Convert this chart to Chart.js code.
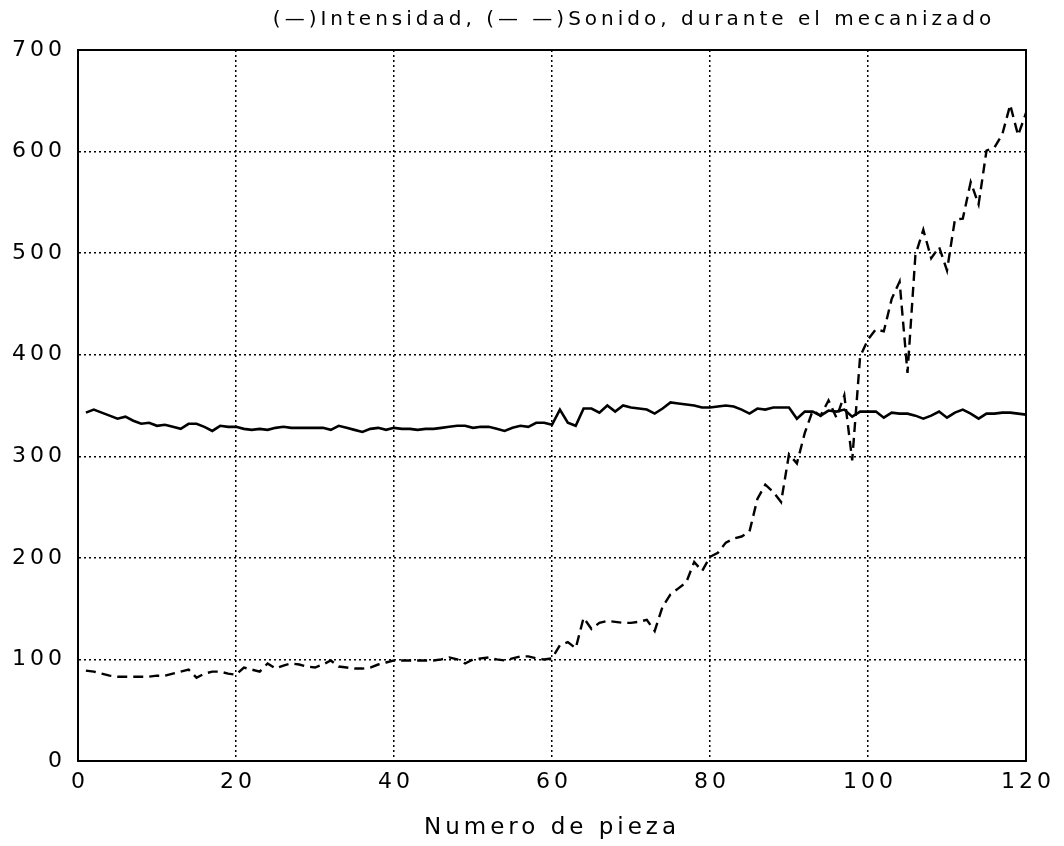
<!DOCTYPE html>
<html>
<head>
<meta charset="utf-8">
<script src="https://cdn.jsdelivr.net/npm/chart.js@4"></script>
<style>
  html, body { margin: 0; padding: 0; background: #fff; }
  #wrap { width: 1064px; height: 846px; }
</style>
</head>
<body>
<div id="wrap"><canvas id="c"></canvas></div>
<script>
const titleText = "(\u2014)Intensidad, (\u2014 \u2014)Sonido, durante el mecanizado";
const xTitle = "Numero de pieza";
const piezas = Array.from({length: 120}, (_, i) => i + 1);
const intensidad = [
  343, 346, 343, 340, 337, 339, 335, 332, 333, 330,
  331, 329, 327, 332, 332, 329, 325, 330, 329, 329,
  327, 326, 327, 326, 328, 329, 328, 328, 328, 328,
  328, 326, 330, 328, 326, 324, 327, 328, 326, 328,
  327, 327, 326, 327, 327, 328, 329, 330, 330, 328,
  329, 329, 327, 325, 328, 330, 329, 333, 333, 331,
  346, 333, 330, 347, 347, 343, 350, 344, 350, 348,
  347, 346, 342, 347, 353, 352, 351, 350, 348, 348,
  349, 350, 349, 346, 342, 347, 346, 348, 348, 348,
  337, 344, 344, 340, 345, 344, 346, 339, 344, 344,
  344, 338, 343, 342, 342, 340, 337, 340, 344, 338,
  343, 346, 342, 337, 342, 342, 343, 343, 342, 341
];
const sonido = [
  89, 88, 86, 84, 83, 83, 83, 83, 83, 84,
  84, 86, 88, 90, 82, 86, 88, 88, 86, 85,
  92, 90, 88, 96, 91, 94, 96, 95, 93, 92,
  95, 99, 93, 92, 91, 91, 92, 95, 97, 99,
  99, 99, 99, 99, 99, 100, 102, 100, 96, 100,
  101, 102, 100, 99, 101, 103, 103, 101, 100, 101,
  114, 117, 111, 141, 130, 136, 138, 137, 136, 136,
  137, 139, 128, 152, 164, 170, 176, 196, 187, 201,
  205, 215, 219, 221, 226, 258, 272, 265, 255, 302,
  293, 323, 345, 340, 355, 338, 360, 296, 398, 415,
  425, 423, 455, 472, 382, 498, 523, 495, 506, 483,
  533, 534, 570, 548, 601, 604, 617, 646, 616, 638
];
const xMin = 0, xMax = 120, xStep = 20;
const yMin = 0, yMax = 700, yStep = 100;
const FONT = "'DejaVu Sans', sans-serif";
const SPACING = '4px';

// letter spacing applied to every text draw; also re-applied right before each
// y-axis label so that right alignment uses the spaced width
const spacingPlugin = {
  id: 'spacing',
  beforeLayout(chart) { chart.ctx.letterSpacing = SPACING; },
  afterLayout(chart) { if (chart.titleBlock) { chart.titleBlock.left = 242; } },
  beforeDraw(chart) { chart.ctx.letterSpacing = SPACING; }
};
const framePlugin = {
  id: 'frame',
  afterDatasetsDraw(chart) {
    const a = chart.chartArea, ctx = chart.ctx;
    ctx.save(); ctx.strokeStyle = '#000'; ctx.lineWidth = 2; ctx.setLineDash([]);
    ctx.strokeRect(a.left, a.top, a.right - a.left, a.bottom - a.top); ctx.restore();
  }
};
const toPts = arr => arr.map((v, i) => ({x: piezas[i], y: v}));
new Chart(document.getElementById('c'), {
  type: 'line',
  data: { datasets: [
    { label: 'Intensidad', data: toPts(intensidad), borderColor: '#000', borderWidth: 2.6, pointRadius: 0, tension: 0, fill: false },
    { label: 'Sonido', data: toPts(sonido), borderColor: '#000', borderWidth: 2.4, borderDash: [10, 6], pointRadius: 0, tension: 0, fill: false }
  ]},
  options: {
    responsive: true, maintainAspectRatio: false, animation: false, devicePixelRatio: 1,
    layout: { padding: { left: 0, right: 38, top: 8, bottom: 0 } },
    plugins: {
      legend: { display: false }, tooltip: { enabled: false },
      title: { display: true, text: titleText, color: '#000',
        font: { family: FONT, size: 20, weight: 'normal', lineHeight: 1.2 }, padding: { top: 0, bottom: 18 } }
    },
    scales: {
      x: { type: 'linear', min: xMin, max: xMax, afterFit(s) { s.height = 85; },
        ticks: { stepSize: xStep, color: '#000', padding: 8, labelOffset: 2, maxRotation: 0, font: { family: FONT, size: 22 } },
        grid: { color: '#000', lineWidth: 1.5, drawTicks: false },
        border: { display: true, color: '#000', width: 2, dash: [2, 3] },
        title: { display: true, text: xTitle, color: '#000', font: { family: FONT, size: 23 }, padding: { top: 4, bottom: 4 } } },
      y: { min: yMin, max: yMax, afterFit(s) { s.width = 78; },
        ticks: { stepSize: yStep, color: '#000', padding: 12, crossAlign: 'near', font: { family: FONT, size: 22 }, callback: v => String(v) },
        grid: { color: '#000', lineWidth: 1.5, drawTicks: false },
        border: { display: true, color: '#000', width: 2, dash: [2, 3] } }
    }
  },
  plugins: [spacingPlugin, framePlugin]
});
</script>
</body>
</html>
